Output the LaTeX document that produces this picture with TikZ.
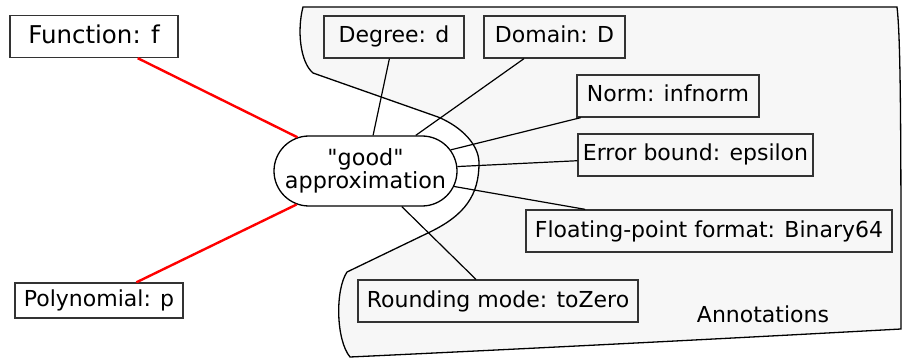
\documentclass[tikz,border=0pt]{standalone}
\usepackage{fontspec}
\setmainfont{DejaVu Sans}[Ligatures=TeXOff]
\usetikzlibrary{shapes.misc}
\definecolor{clusterfill}{HTML}{F7F7F7}
\definecolor{inkgray}{HTML}{333333}
\begin{document}
\begin{tikzpicture}[x=1pt,y=-1pt,
  every node/.style={font=\fontsize{22}{24}\selectfont, inner sep=0pt},
  sz/.style 2 args={minimum width=#1pt, minimum height=#2pt},
  box/.style={draw=inkgray, line width=1.3pt, rectangle, text height=16pt, text depth=4pt},
  goal/.style={draw=black, line width=1.3pt, fill=white, rounded rectangle, align=center},
  cluster/.style={draw=black, line width=1.3pt, fill=clusterfill},
  link/.style={draw=black, line width=1.2pt},
  keylink/.style={draw=red, line width=2.4pt},
]
\useasboundingbox (0,0) rectangle (902,358);

% annotation cluster, with a notch around the central node
\path[cluster] (303,7) -- (897,7)
  .. controls (901,40) and (901,150) .. (901,329)
  .. controls (700,340) and (500,350) .. (350,357)
  .. controls (336,340) and (335,290) .. (347,272)
  -- (430,232)
  .. controls (465,215) and (479,195) .. (479,163)
  .. controls (479,145) and (462,127) .. (438,117)
  -- (313,73)
  .. controls (300,62) and (297,30) .. (303,7) -- cycle;

% main nodes
\node[box, fill=white, sz={168}{42}, font=\fontsize{24.5}{26}\selectfont,
      text height=18pt, text depth=4pt] (fn) at (94,36.5) {Function: f};
\node[box, fill=white, sz={168}{35}] (poly) at (99,300.5) {Polynomial: p};
\node[goal, sz={183}{70}, font=\fontsize{22.3}{23.5}\selectfont] (good) at (365.5,171)
  {"good"\\approximation};

% annotations
\node[box, sz={140}{42}] (deg) at (394,37) {Degree: d};
\node[box, sz={141}{42}] (dom) at (554.5,37) {Domain: D};
\node[box, sz={182}{42}] (norm) at (668,96) {Norm: infnorm};
\node[box, sz={235}{42}] (err) at (695.5,155) {Error bound: epsilon};
\node[box, sz={366}{42}] (flt) at (709,231) {Floating-point format: Binary64};
\node[box, sz={280}{42}] (rnd) at (498,301) {Rounding mode: toZero};
\node[anchor=base] (lbl) at (763,322) {Annotations};

% connectors
\draw[keylink] (fn) -- (good);
\draw[keylink] (poly) -- (good);
\draw[link] (deg) -- (good);
\draw[link] (dom) -- (good);
\draw[link] (norm) -- (good);
\draw[link] (err) -- (good);
\draw[link] (flt) -- (good);
\draw[link] (good) -- (rnd);
\end{tikzpicture}
\end{document}
